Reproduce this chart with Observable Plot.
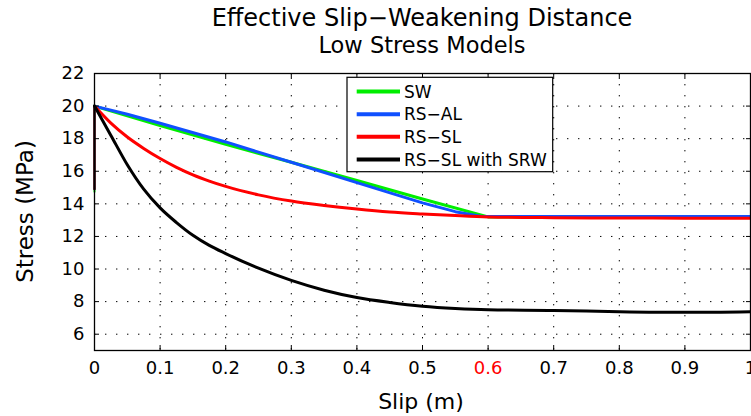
<!DOCTYPE html>
<html><head><meta charset="utf-8">
<script src="https://cdn.jsdelivr.net/npm/d3@7"></script>
<script src="https://cdn.jsdelivr.net/npm/@observablehq/plot@0.6"></script>
<style>html,body{margin:0;padding:0;background:#fff;overflow:hidden}</style>
</head><body><div id="chart"></div>
<script>
// ---- data ----
const seriesNames = ["SW", "RS−AL", "RS−SL", "RS−SL with SRW"];
const seriesColors = ["#00ee00", "#1050ff", "#ff0000", "#000000"];
const smoothSeries = ["RS−SL", "RS−SL with SRW"];

const swSlip   = [0, 0, 0.05, 0.1, 0.2, 0.3, 0.4, 0.5, 0.6, 0.7, 0.8, 0.9, 1.0];
const swStress = [14.75, 20, 19.4, 18.8, 17.65, 16.55, 15.43, 14.3, 13.2, 13.2, 13.2, 13.2, 13.2];

const alSlip   = [0, 0, 0.05, 0.1, 0.2, 0.3, 0.4, 0.5, 0.55, 0.59, 0.7, 0.8, 0.9, 1.0];
const alStress = [14.9, 20, 19.5, 18.95, 17.8, 16.55, 15.3, 14.06, 13.52, 13.22, 13.22, 13.22, 13.22, 13.22];

const slSlip   = [0, 0, 0.025, 0.05, 0.075, 0.1, 0.125, 0.15, 0.175, 0.2, 0.25, 0.3, 0.35, 0.4, 0.45, 0.5, 0.55, 0.6, 0.7, 0.8, 0.9, 1.0];
const slStress = [14.9, 20, 18.95, 18.1, 17.4, 16.78, 16.24, 15.78, 15.4, 15.07, 14.55, 14.17, 13.9, 13.68, 13.5, 13.38, 13.28, 13.2, 13.15, 13.13, 13.12, 13.11];

const srwSlip   = [0, 0, 0.025, 0.05, 0.075, 0.1, 0.125, 0.15, 0.175, 0.2, 0.25, 0.3, 0.35, 0.4, 0.45, 0.5, 0.55, 0.6, 0.7, 0.8, 0.9, 1.0];
const srwStress = [14.9, 20, 18.2, 16.4, 14.9, 13.75, 12.85, 12.07, 11.45, 10.95, 10.05, 9.3, 8.7, 8.25, 7.95, 7.72, 7.58, 7.5, 7.46, 7.38, 7.34, 7.38];

const xTicks = [0, 0.1, 0.2, 0.3, 0.4, 0.5, 0.6, 0.7, 0.8, 0.9, 1];
const xTickLabels = ["0", "0.1", "0.2", "0.3", "0.4", "0.5", "0.6", "0.7", "0.8", "0.9", "1"];
const highlightedTick = 0.6;
const yTicks = [6, 8, 10, 12, 14, 16, 18, 20, 22];

const titleText = "Effective Slip−Weakening Distance";
const subtitleText = "Low Stress Models";
const xLabelText = "Slip (m)";
const yLabelText = "Stress (MPa)";

// ---- build table ----
const seriesData = [[swSlip, swStress], [alSlip, alStress], [slSlip, slStress], [srwSlip, srwStress]];
const rows = [];
seriesData.forEach(([s, t], k) => s.forEach((x, i) => rows.push({series: seriesNames[k], order: k, idx: i, slip: x, stress: t[i]})));
const onsetRows = rows.filter(r => r.idx <= 1);
const mainRows = rows.filter(r => r.idx >= 1);

const font = "'DejaVu Sans', sans-serif";
const W = 751, H = 416, ML = 94, MR = 1, MT = 73, MB = 66;
const fmt = d => xTickLabels[xTicks.indexOf(d)];
const dotted = {stroke: "black", strokeOpacity: 1, strokeWidth: 1, strokeDasharray: "1.4,9.6"};

const seriesMarks = [];
seriesNames.forEach(name => {
  seriesMarks.push(Plot.line(onsetRows.filter(r => r.series === name), {x: "slip", y: "stress", stroke: "series", strokeWidth: 2}));
  seriesMarks.push(Plot.line(mainRows.filter(r => r.series === name), {
    x: "slip", y: "stress", stroke: "series", strokeWidth: 3,
    curve: smoothSeries.includes(name) ? "monotone-x" : "linear"
  }));
});

const plot = Plot.plot({
  width: W, height: H,
  marginLeft: ML, marginRight: MR, marginTop: MT, marginBottom: MB,
  style: {fontFamily: font, fontSize: "18px", color: "black", background: "white", overflow: "hidden"},
  x: {domain: [0, 1]},
  y: {domain: [5, 22]},
  color: {domain: seriesNames, range: seriesColors},
  marks: [
    Plot.gridX(xTicks.slice(1, -1), dotted),
    Plot.gridY(yTicks.slice(0, -1), dotted),
    ...seriesMarks,
    Plot.frame({stroke: "black", strokeWidth: 1.3}),
    Plot.axisX(xTicks.filter(d => d !== highlightedTick), {anchor: "bottom", tickSize: 0, tickPadding: 11, tickFormat: fmt, fill: "black", label: null, fontSize: 18}),
    Plot.axisX([highlightedTick], {anchor: "bottom", tickSize: 0, tickPadding: 11, tickFormat: fmt, fill: "red", label: null, fontSize: 18}),
    Plot.axisX(xTicks, {anchor: "bottom", tickSize: -5, tickFormat: () => "", label: null}),
    Plot.axisX(xTicks, {anchor: "top", tickSize: -5, tickFormat: () => "", label: null}),
    Plot.axisY(yTicks, {anchor: "left", tickSize: 0, tickPadding: 10, tickFormat: d => String(d), fill: "black", label: null, fontSize: 18}),
    Plot.axisY(yTicks, {anchor: "left", tickSize: -5, tickFormat: () => "", label: null}),
    Plot.axisY(yTicks, {anchor: "right", tickSize: -5, tickFormat: () => "", label: null})
  ]
});

const svg = d3.select(plot);
const cx = (ML + (W - MR)) / 2;
svg.append("text").attr("x", cx).attr("y", 25.7).attr("text-anchor", "middle")
  .attr("font-family", font).attr("font-size", 24).attr("fill", "black").text(titleText);
svg.append("text").attr("x", cx).attr("y", 53.3).attr("text-anchor", "middle")
  .attr("font-family", font).attr("font-size", 22.5).attr("fill", "black").text(subtitleText);
svg.append("text").attr("x", cx - 1).attr("y", 409).attr("text-anchor", "middle")
  .attr("font-family", font).attr("font-size", 22).attr("fill", "black").text(xLabelText);
svg.append("text").attr("transform", `translate(33,${(MT + H - MB) / 2}) rotate(-90)`).attr("text-anchor", "middle")
  .attr("font-family", font).attr("font-size", 23).attr("fill", "black").text(yLabelText);

// legend
const lg = svg.append("g");
lg.append("rect").attr("x", 347).attr("y", 77.3).attr("width", 205.7).attr("height", 94.4)
  .attr("fill", "white").attr("stroke", "black").attr("stroke-width", 1.2);
seriesNames.forEach((name, i) => {
  const y = 91.6 + i * 22.6;
  lg.append("line").attr("x1", 356.7).attr("x2", 400).attr("y1", y).attr("y2", y)
    .attr("stroke", seriesColors[i]).attr("stroke-width", 4);
  lg.append("text").attr("x", 404).attr("y", y + 6.2).attr("text-anchor", "start")
    .attr("font-family", font).attr("font-size", 17).attr("fill", "black").text(name);
});

document.getElementById("chart").appendChild(plot);
</script>
</body></html>
